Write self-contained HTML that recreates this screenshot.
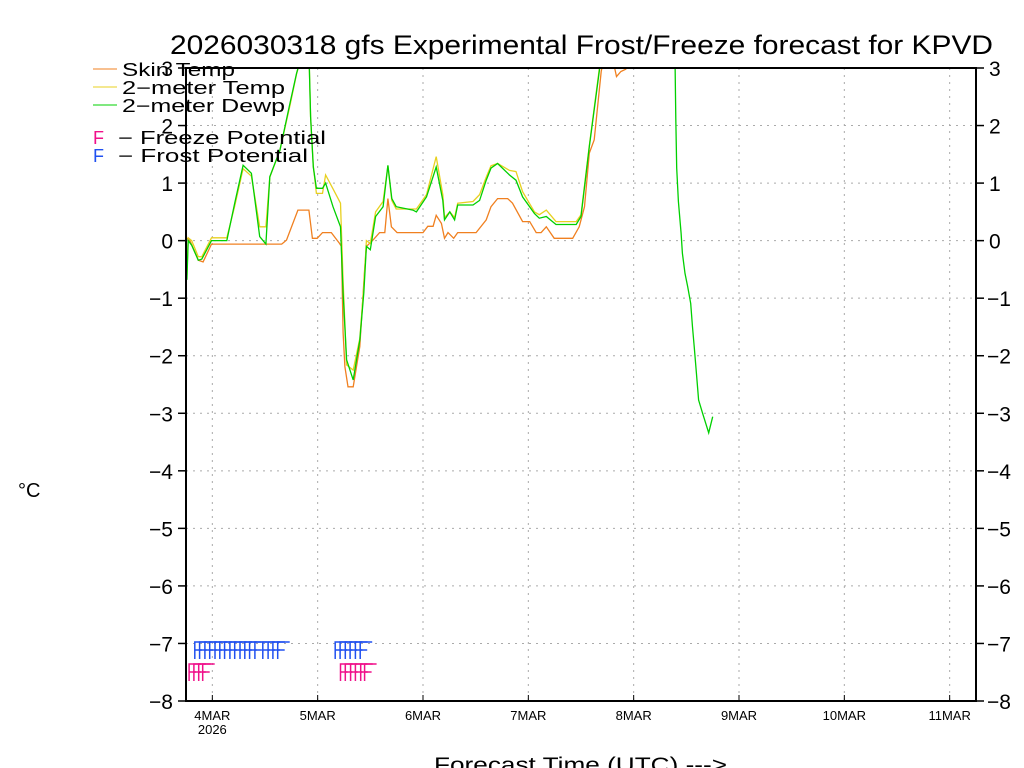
<!DOCTYPE html>
<html><head><meta charset="utf-8"><style>
html,body{margin:0;padding:0;background:#fff;}
svg{display:block;font-family:"Liberation Sans",sans-serif;}
</style></head><body>
<svg id="chart" width="1024" height="768" viewBox="0 0 1024 768" xmlns="http://www.w3.org/2000/svg">
<defs><clipPath id="plotclip"><rect x="186" y="68" width="790" height="633"/></clipPath></defs>
<text x="170" y="54" font-size="27" textLength="823" lengthAdjust="spacingAndGlyphs">2026030318 gfs Experimental Frost/Freeze forecast for KPVD</text>
<g id="grid"></g>
<g id="series" clip-path="url(#plotclip)"></g>
<g id="marks"></g>
<rect x="186" y="68" width="790" height="633" fill="none" stroke="#000" stroke-width="2"/>
<g id="axes"></g>
<g font-size="18">
<line x1="93" y1="69" x2="117" y2="69" stroke="#f08020"/>
<text x="122" y="76" textLength="113" lengthAdjust="spacingAndGlyphs">Skin Temp</text>
<line x1="93" y1="87" x2="117" y2="87" stroke="#e8d020"/>
<text x="122" y="94" textLength="163" lengthAdjust="spacingAndGlyphs">2−meter Temp</text>
<line x1="93" y1="105" x2="117" y2="105" stroke="#00d000"/>
<text x="122" y="112" textLength="163" lengthAdjust="spacingAndGlyphs">2−meter Dewp</text>
<text x="93" y="144" fill="#f0108a">F</text>
<text x="118" y="144" textLength="208" lengthAdjust="spacingAndGlyphs">− Freeze Potential</text>
<text x="93" y="162" fill="#2050f0">F</text>
<text x="118" y="162" textLength="190" lengthAdjust="spacingAndGlyphs">− Frost Potential</text>
</g>
<text x="18" y="497" font-size="20">°C</text>
<text x="434" y="772" font-size="21" textLength="293" lengthAdjust="spacingAndGlyphs">Forecast Time (UTC) ---&gt;</text>
</svg>
<script>
const NS='http://www.w3.org/2000/svg';
const dayLabels=['4MAR','5MAR','6MAR','7MAR','8MAR','9MAR','10MAR','11MAR'];
const yTicks=[3,2,1,0,-1,-2,-3,-4,-5,-6,-7,-8];
const dewpHours=[0.2,0.5,1.3,2.8,3.6,5.8,9.3,11.1,13.0,14.9,16.8,18.2,19.1,21.4,23.7,25.2,26.3,28.0,28.4,29.0,29.7,31.1,31.8,33.5,35.2,35.8,36.6,38.1,39.6,40.5,41.1,42.0,43.2,44.9,46.0,46.9,47.9,51.7,52.5,54.8,57.0,58.5,58.9,60.1,61.2,61.9,65.4,66.9,68.4,69.5,71.0,73.7,75.2,76.7,79.4,80.5,82.1,84.3,88.9,90.0,91.9,94.2,94.9,98.7,105.5,110,111.4,111.6,111.8,112.2,112.8,113.1,113.7,114.3,115.0,115.4,115.8,116.3,116.8,117.7,119.1,120.0];
const dewpVals=[-0.68,0,-0.08,-0.34,-0.32,0,0,0.65,1.31,1.17,0.07,-0.06,1.11,1.57,2.39,2.91,3.2,3.3,2.15,1.28,0.91,0.91,1.0,0.59,0.24,-0.91,-2.07,-2.42,-1.73,-0.91,-0.1,-0.16,0.42,0.59,1.31,0.73,0.59,0.53,0.5,0.76,1.28,0.7,0.36,0.5,0.36,0.62,0.62,0.7,1.05,1.26,1.34,1.14,1.05,0.76,0.47,0.39,0.42,0.28,0.28,0.42,1.63,2.96,3.5,4.5,5,4.5,3.3,2.12,1.26,0.68,0.13,-0.22,-0.57,-0.8,-1.09,-1.5,-1.84,-2.3,-2.77,-3.0,-3.34,-3.06];
const t2mHours=[0.2,0.5,1.3,2.8,3.6,5.8,9.3,11.1,13.0,14.9,16.8,18.2,19.1,21.4,23.7,25.2,26.3,28.0,28.4,29.0,29.7,31.1,31.8,33.5,35.2,35.8,36.6,38.1,39.6,40.5,41.1,42.0,43.2,44.9,46.0,46.9,47.9,51.7,52.5,54.8,57.0,58.5,58.9,60.1,61.2,61.9,65.4,66.9,68.4,69.5,71.0,73.7,75.2,76.7,79.4,80.5,82.1,84.3,88.9,90.0,91.9,94.2,94.9,100.5];
const t2mVals=[-0.6,0.05,0,-0.28,-0.28,0.05,0.05,0.6,1.25,1.12,0.24,0.24,1.1,1.57,2.35,2.9,3.2,3.3,2.15,1.3,0.82,0.82,1.14,0.9,0.65,-0.7,-2.16,-2.25,-1.7,-0.8,0,-0.05,0.5,0.68,1.3,0.7,0.55,0.55,0.55,0.8,1.46,0.8,0.4,0.5,0.4,0.65,0.68,0.8,1.1,1.3,1.34,1.22,1.2,0.85,0.5,0.45,0.53,0.33,0.33,0.45,1.65,3.0,3.5,4.5];
const skinHours=[0.2,0.9,2.8,3.9,5.8,21.8,22.9,25.5,28.0,28.8,29.9,31.1,33.1,35.0,35.4,35.8,36.2,36.9,38.1,39.6,40.7,41.1,42.6,44.1,45.3,46.0,46.8,48.1,54.0,55.1,56.3,57.0,58.2,58.9,59.7,61.0,61.9,66.1,68.4,69.5,71.0,73.3,74.4,76.7,78.3,79.8,80.9,82.1,83.9,88.1,89.6,90.8,91.9,93.0,94.6,94.9,97.6,98.1,99.1,100.2,101.0];
const skinVals=[0.04,0,-0.34,-0.37,-0.06,-0.06,0.01,0.53,0.53,0.04,0.04,0.14,0.14,-0.05,-0.1,-1.6,-2.19,-2.54,-2.54,-1.84,-0.51,-0.1,0.01,0.14,0.14,0.73,0.24,0.14,0.14,0.25,0.25,0.44,0.3,0.04,0.14,0.04,0.14,0.14,0.36,0.59,0.73,0.73,0.65,0.33,0.33,0.14,0.14,0.24,0.04,0.04,0.24,0.59,1.52,1.75,2.94,3.05,3.02,2.85,2.94,2.98,3.5];
const frostHours=[2.0,3.1,4.3,5.4,6.6,7.7,8.8,10.0,11.1,12.3,13.4,14.5,15.7,17.5,18.7,19.8,20.9,34.0,35.1,36.3,37.4,38.6,39.7];
const freezeHours=[0.7,1.8,2.9,3.8,35.2,36.3,37.5,38.6,39.8,40.7];

const X0=186,PXH=790/180,Y0=68,PXD=633/11;
const xs=h=>X0+h*PXH;
const ys=v=>Y0+(3-v)*PXD;
function el(tag,attrs,parent){const e=document.createElementNS(NS,tag);for(const k in attrs)e.setAttribute(k,attrs[k]);parent.appendChild(e);return e;}
const grid=document.getElementById('grid'),axes=document.getElementById('axes'),series=document.getElementById('series'),marks=document.getElementById('marks');
yTicks.forEach(v=>{
  const y=ys(v);
  if(v<3&&v>-8){const g=el('line',{x1:X0,x2:976,y1:y,y2:y,stroke:'#aaa','stroke-dasharray':'2,5'},grid);
    
    }
  const t1=el('line',{x1:178,x2:186,y1:y,y2:y,stroke:'#000','stroke-width':1.5},axes);
  
  
  const t2=el('line',{x1:976,x2:984,y1:y,y2:y,stroke:'#000','stroke-width':1.5},axes);
  
  
  const lab=(v<0?'−':'')+Math.abs(v);
  const l=el('text',{x:173,y:y+8,'font-size':21,'text-anchor':'end'},axes);l.textContent=lab;
  
  
  const r=el('text',{x:v<0?987:989,y:y+8,'font-size':21},axes);r.textContent=v<0?'−'+Math.abs(v):String(v);
  
  
});
dayLabels.forEach((d,i)=>{
  const x=xs(6+24*i);
  const g=el('line',{x1:x,x2:x,y1:Y0,y2:701,stroke:'#aaa','stroke-dasharray':'2,5'},grid);
  
  
  const tk=el('line',{x1:x,x2:x,y1:695,y2:701,stroke:'#000'},axes);
  
  
  const t=el('text',{x:x,y:720,'font-size':13,'text-anchor':'middle'},axes);t.textContent=d;
  
  
  if(i===0){const yr=el('text',{x:x,y:734,'font-size':13,'text-anchor':'middle'},axes);yr.textContent='2026';
    
    }
});
function line(hours,vals,color,name){
  const pts=hours.map((h,i)=>xs(h).toFixed(1)+','+ys(vals[i]).toFixed(1)).join(' ');
  const p=el('polyline',{points:pts,fill:'none',stroke:color,'stroke-width':1.3},series);
  
  
}
line(skinHours,skinVals,'#f08020','skin-temp-line');
line(t2mHours,t2mVals,'#e8d020','t2m-line');
line(dewpHours,dewpVals,'#00d000','dewpoint-line');
function fmark(h,top,color,name){
  const x=xs(h);
  const p=el('path',{d:`M${x.toFixed(1)},${top+17}V${top}H${(x+12).toFixed(1)}M${x.toFixed(1)},${top+8}H${(x+7).toFixed(1)}`,fill:'none',stroke:color,'stroke-width':1.5},marks);
  
  
}
frostHours.forEach(h=>fmark(h,642,'#2050f0','frost-marker'));
freezeHours.forEach(h=>fmark(h,664,'#f0108a','freeze-marker'));
</script>
</body></html>
